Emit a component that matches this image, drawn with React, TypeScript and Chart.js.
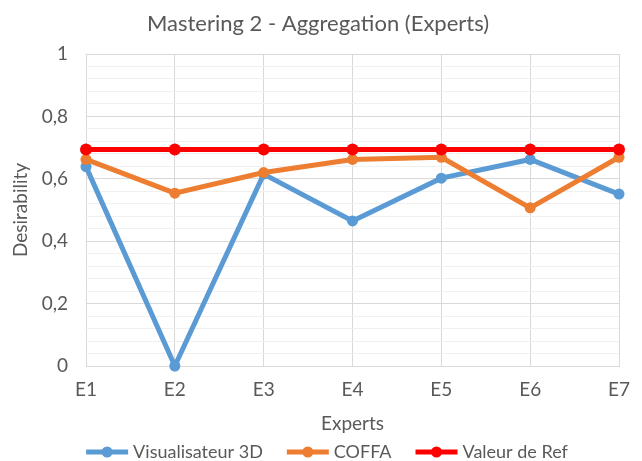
import React, { useEffect, useRef } from "react";
import { Chart, registerables } from "chart.js";

Chart.register(...registerables);

const chartTitle = "Mastering 2 - Aggregation (Experts)";
const xAxisTitle = "Experts";
const yAxisTitle = "Desirability";

const categories = ["E1", "E2", "E3", "E4", "E5", "E6", "E7"];
const visualisateur3D = [0.639, 0.0, 0.615, 0.465, 0.602, 0.662, 0.551];
const coffa = [0.662, 0.554, 0.62, 0.662, 0.669, 0.507, 0.669];
const valeurDeRef = [0.694, 0.694, 0.694, 0.694, 0.694, 0.694, 0.694];
const seriesNames = ["Visualisateur 3D", "COFFA", "Valeur de Ref"];
const seriesColors = ["#5B9BD5", "#ED7D31", "#FF0000"];
const yMajorTicks = [0, 0.2, 0.4, 0.6, 0.8, 1];

const FONT = "Lato, 'Open Sans', sans-serif";
const TEXT = "#595959";

const isMajor = (v: number) => yMajorTicks.some((m) => Math.abs(m - v) < 1e-6);
const fmt = (v: number) => String(Number(v.toFixed(2))).replace(".", ",");

const titleLegendPlugin = {
  id: "titleLegend",
  afterDraw(chart: any) {
    const ctx = chart.ctx;
    ctx.save();
    // title
    ctx.fillStyle = TEXT;
    ctx.font = `22px ${FONT}`;
    ctx.textAlign = "center";
    ctx.textBaseline = "middle";
    ctx.fillText(chartTitle, 318, 24);

    // legend
    ctx.font = `18px ${FONT}`;
    const markerW = 42;
    const gap = 5;
    const itemGap = 24;
    const items = chart.data.datasets.map((ds: any) => ({
      label: ds.label,
      color: ds.borderColor,
      w: markerW + gap + ctx.measureText(ds.label).width,
    }));
    const total = items.reduce((s: number, it: any) => s + it.w, 0) + itemGap * (items.length - 1);
    let x = 327 - total / 2;
    const y = 452;
    ctx.textAlign = "left";
    for (const it of items) {
      ctx.strokeStyle = it.color;
      ctx.lineWidth = 5;
      ctx.lineCap = "butt";
      ctx.beginPath();
      ctx.moveTo(x, y);
      ctx.lineTo(x + markerW, y);
      ctx.stroke();
      ctx.fillStyle = it.color;
      ctx.beginPath();
      ctx.arc(x + markerW / 2, y, 5.5, 0, Math.PI * 2);
      ctx.fill();
      ctx.fillStyle = TEXT;
      ctx.fillText(it.label, x + markerW + gap, y);
      x += it.w + itemGap;
    }
    ctx.restore();
  },
};

export default function App() {
  const ref = useRef<HTMLCanvasElement | null>(null);

  useEffect(() => {
    document.body.style.margin = "0";
    const canvas = ref.current!;
    const series = [visualisateur3D, coffa, valeurDeRef];
    const chart = new Chart(canvas, {
      type: "line",
      data: {
        labels: categories,
        datasets: series.map((data, i) => ({
          label: seriesNames[i],
          data,
          borderColor: seriesColors[i],
          backgroundColor: seriesColors[i],
          pointBackgroundColor: seriesColors[i],
          pointBorderWidth: 0,
          pointRadius: i === 2 ? 6 : 5.5,
          borderWidth: 5,
          tension: 0,
          fill: false,
          clip: false as any,
          order: 3 - i,
        })),
      },
      options: {
        responsive: false,
        animation: false,
        devicePixelRatio: 1,
        layout: { padding: { top: 54, right: 12, bottom: 25, left: 0 } },
        plugins: {
          legend: { display: false },
          title: { display: false },
          tooltip: { enabled: false },
        },
        scales: {
          x: {
            type: "category",
            offset: false,
            grid: { color: "#d9d9d9", lineWidth: 1, drawTicks: false },
            border: { color: "#d9d9d9" },
            ticks: { color: TEXT, font: { family: FONT, size: 19 }, padding: 12, maxRotation: 0 },
            title: {
              display: true,
              text: xAxisTitle,
              color: TEXT,
              font: { family: FONT, size: 19 },
              padding: { top: 0, bottom: 1 },
            },
            afterFit: (s: any) => {
              s.height = 70;
            },
          },
          y: {
            min: 0,
            max: 1,
            grid: {
              color: (c: any) => (c.tick && isMajor(c.tick.value) ? "#d9d9d9" : "#f0f0f0"),
              lineWidth: 1,
              drawTicks: false,
            },
            border: { display: false },
            ticks: {
              stepSize: 0.04,
              autoSkip: false,
              color: TEXT,
              font: { family: FONT, size: 19 },
              padding: 18,
              callback: (v: any) => (isMajor(Number(v)) ? fmt(Number(v)) : ""),
            },
            title: {
              display: true,
              text: yAxisTitle,
              color: TEXT,
              font: { family: FONT, size: 19 },
              padding: { top: 9, bottom: 0 },
            },
            afterFit: (s: any) => {
              s.width = 86;
            },
          },
        },
      },
      plugins: [titleLegendPlugin],
    });
    return () => chart.destroy();
  }, []);

  return (
    <div style={{ position: "absolute", left: 0, top: 0, width: 642, height: 461 }}>
      <canvas ref={ref} width={642} height={461} style={{ width: 642, height: 461 }} />
    </div>
  );
}
